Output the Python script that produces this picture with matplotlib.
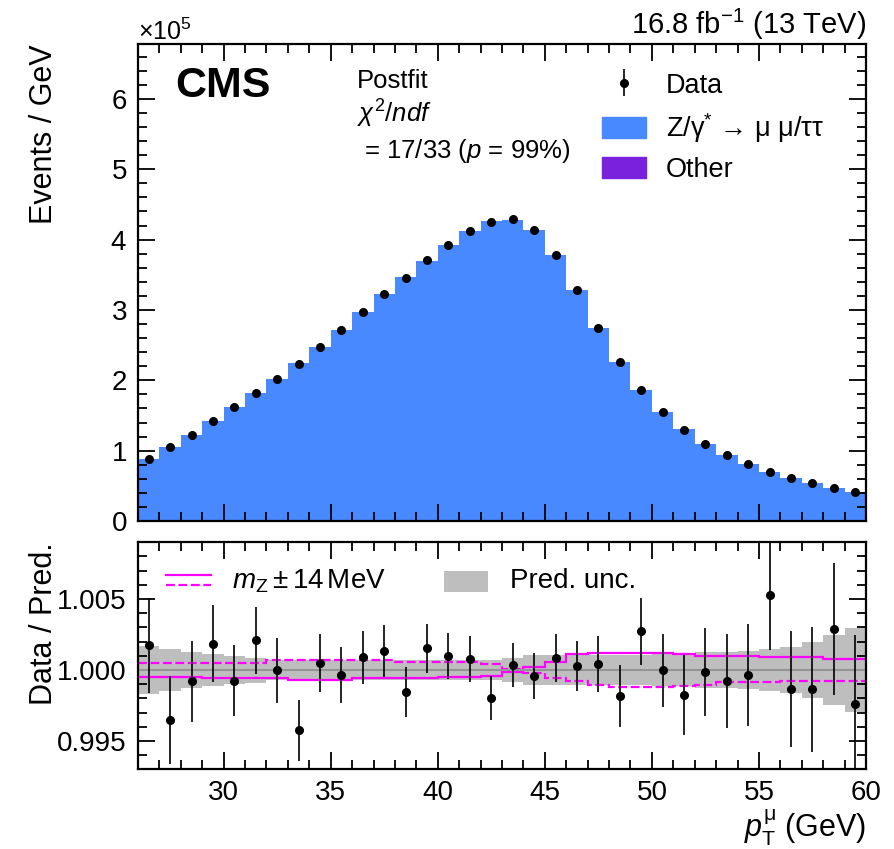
import numpy as np
import matplotlib
matplotlib.use("Agg")
import matplotlib.pyplot as plt
from matplotlib.ticker import MultipleLocator, FormatStrFormatter, ScalarFormatter
from matplotlib.lines import Line2D
from matplotlib.patches import Patch, Rectangle

plt.rcParams['font.family'] = ['Liberation Sans', 'DejaVu Sans']
plt.rcParams['mathtext.fontset'] = 'custom'
plt.rcParams['mathtext.rm'] = 'Liberation Sans'
plt.rcParams['mathtext.it'] = 'Liberation Sans:italic'
plt.rcParams['mathtext.bf'] = 'Liberation Sans:bold'

# binning in muon pT (GeV)
edges = np.arange(26, 61, 1)

# observed events per GeV
data = np.array([0.882, 1.053, 1.228, 1.422, 1.617, 1.821, 2.020, 2.238, 2.480, 2.720,
                 2.973, 3.224, 3.457, 3.703, 3.926, 4.121, 4.249, 4.286, 4.135, 3.788,
                 3.281, 2.741, 2.257, 1.868, 1.550, 1.299, 1.100, 0.939, 0.815, 0.702,
                 0.612, 0.536, 0.474, 0.412]) * 1e5

# data / prediction and its stat. error
ratio = np.array([1.00174, 0.99648, 0.99920, 1.00185, 0.99925, 1.00209, 0.99998, 0.99575,
                  1.00049, 0.99967, 1.00089, 1.00131, 0.99845, 1.00153, 1.00096, 1.00077,
                  0.99801, 1.00035, 0.99960, 1.00082, 1.00030, 1.00042, 0.99815, 1.00273,
                  0.99998, 0.99824, 0.99986, 0.99925, 0.99965, 1.00528, 0.99866, 0.99864,
                  1.00289, 0.99758])
ratio_err = np.array([0.00335, 0.00312, 0.00286, 0.00271, 0.00250, 0.00236, 0.00229, 0.00215,
                      0.00207, 0.00197, 0.00187, 0.00183, 0.00175, 0.00171, 0.00161, 0.00161,
                      0.00156, 0.00157, 0.00162, 0.00168, 0.00177, 0.00197, 0.00217, 0.00236,
                      0.00258, 0.00279, 0.00307, 0.00331, 0.00360, 0.00385, 0.00411, 0.00440,
                      0.00464, 0.00490])

# relative prediction uncertainty (band half width)
pred_unc = np.array([0.00167, 0.00146, 0.00129, 0.00112, 0.00099, 0.00088, 0.00068, 0.00068,
                     0.00068, 0.00068, 0.00068, 0.00068, 0.00068, 0.00068, 0.00068, 0.00068,
                     0.00068, 0.00082, 0.00103, 0.00104, 0.00106, 0.00106, 0.00106, 0.00108,
                     0.00110, 0.00115, 0.00125, 0.00130, 0.00132, 0.00148, 0.00165, 0.00195,
                     0.00245, 0.00295])

# mZ variations relative to nominal
mz_solid = np.array([-0.00047, -0.00047, -0.00047, -0.00056, -0.00056, -0.00056, -0.00056, -0.00070,
                     -0.00070, -0.00070, -0.00058, -0.00058, -0.00058, -0.00058, -0.00047, -0.00047,
                     -0.00040, -0.00012, 0.00023, 0.00058, 0.00110, 0.00122, 0.00122, 0.00122,
                     0.00122, 0.00110, 0.00099, 0.00099, 0.00099, 0.00089, 0.00089, 0.00089,
                     0.00077, 0.00077])
mz_dash = np.array([0.00052, 0.00052, 0.00052, 0.00052, 0.00052, 0.00052, 0.00068, 0.00068,
                    0.00068, 0.00068, 0.00068, 0.00068, 0.00058, 0.00058, 0.00058, 0.00058,
                    0.00040, 0.00005, -0.00023, -0.00058, -0.00077, -0.00106, -0.00118, -0.00118,
                    -0.00118, -0.00113, -0.00106, -0.00087, -0.00087, -0.00087, -0.00075, -0.00075,
                    -0.00075, -0.00075])

centers = 0.5 * (edges[1:] + edges[:-1])
pred = data / ratio

blue = '#4889ff'
purple = '#7a21dd'

fig = plt.figure(figsize=(8.95, 8.49), dpi=100)
ax1 = fig.add_axes([0.1542, 0.3863, 0.8134, 0.5619])
ax2 = fig.add_axes([0.1542, 0.0942, 0.8134, 0.2674])

# ---- top panel
ax1.stairs(pred, edges, fill=True, color=blue, lw=0)
eb = ax1.errorbar(centers, data, yerr=ratio_err * pred, fmt='o', color='black',
                  ms=5.5, elinewidth=1.2, capsize=0)
ax1.set_xlim(26, 60)
ax1.set_ylim(0, 6.78e5)
ax1.set_ylabel('Events / GeV', fontsize=22, loc='top')
ax1.yaxis.set_label_coords(-0.108, 1.0)
fmt = ScalarFormatter(useMathText=True)
fmt.set_powerlimits((5, 5))
ax1.yaxis.set_major_formatter(fmt)
ax1.yaxis.get_offset_text().set_fontsize(18)
ax1.yaxis.set_major_locator(MultipleLocator(1e5))
ax1.yaxis.set_minor_locator(MultipleLocator(0.2e5))
ax1.tick_params(labelbottom=False)

ax1.text(0.051, 0.912, 'CMS', transform=ax1.transAxes, fontsize=31,
         fontweight='bold', va='center', ha='left')
ax1.text(1.0, 1.021, r'16.8 fb$^{-1}$ (13 TeV)', transform=ax1.transAxes,
         fontsize=21, ha='right', va='baseline')
ax1.text(0.301, 0.922, 'Postfit', transform=ax1.transAxes, fontsize=18.5, va='center')
ax1.text(0.301, 0.853, r'$\chi^{2}/ndf$', transform=ax1.transAxes, fontsize=18.5, va='center')
ax1.text(0.301, 0.776, r' = 17/33 ($p$ = 99%)', transform=ax1.transAxes, fontsize=18.5, va='center')

handles = [eb, Patch(color=blue), Patch(color=purple)]
labels = ['Data', r'Z/γ$^{*}$ → μ μ/ττ', 'Other']
ax1.legend(handles, labels, loc='upper left', bbox_to_anchor=(0.638, 0.94),
           frameon=False, fontsize=19.5, handlelength=1.6, handleheight=0.82,
           handletextpad=0.75, labelspacing=0.45, borderpad=0, borderaxespad=0)

# ---- ratio panel
ax2.stairs(1 + pred_unc, edges, baseline=1 - pred_unc, fill=True, color='#bebebe', lw=0)
ax2.axhline(1.0, color='#949494', lw=1.5)
ax2.stairs(1 + mz_solid, edges, baseline=None, color='#ff00ff', lw=1.6)
ax2.stairs(1 + mz_dash, edges, baseline=None, color='#ff00ff', lw=1.6, ls=(0, (4, 1.6)))
ax2.errorbar(centers, ratio, yerr=ratio_err, fmt='o', color='black',
             ms=5.5, elinewidth=1.2, capsize=0)
ax2.set_xlim(26, 60)
ax2.set_ylim(0.99303, 1.00901)
ax2.yaxis.set_major_locator(MultipleLocator(0.005))
ax2.yaxis.set_minor_locator(MultipleLocator(0.001))
ax2.yaxis.set_major_formatter(FormatStrFormatter('%.3f'))
ax2.set_ylabel('Data / Pred.', fontsize=22, loc='top')
ax2.yaxis.set_label_coords(-0.108, 1.0)
ax2.set_xlabel(r'$p_{\mathrm{T}}^{\mathrm{\mu}}$ (GeV)', fontsize=22, loc='right', labelpad=1)

# ratio legend
ax2.add_line(Line2D([0.0385, 0.0999], [0.855, 0.855], transform=ax2.transAxes,
                    color='#ff00ff', lw=1.6))
ax2.add_line(Line2D([0.0385, 0.0999], [0.811, 0.811], transform=ax2.transAxes,
                    color='#ff00ff', lw=1.6, ls=(0, (4, 1.6))))
ax2.text(0.129, 0.828, r'$m_{\mathrm{Z}} \pm 14\,\mathrm{MeV}$', transform=ax2.transAxes,
         fontsize=20, va='center')
ax2.add_patch(Rectangle((0.4203, 0.781), 0.0601, 0.0926, transform=ax2.transAxes,
                        color='#bebebe', lw=0))
ax2.text(0.511, 0.828, 'Pred. unc.', transform=ax2.transAxes, fontsize=20, va='center')

for ax in (ax1, ax2):
    ax.xaxis.set_major_locator(MultipleLocator(5))
    ax.xaxis.set_minor_locator(MultipleLocator(1))
    ax.tick_params(which='both', direction='in', top=True, right=True, width=1.3)
    ax.tick_params(which='major', length=12, labelsize=20, pad=8)
    ax.tick_params(which='minor', length=6.5)
    for s in ax.spines.values():
        s.set_linewidth(1.6)

fig.savefig('out.png', dpi=100)
